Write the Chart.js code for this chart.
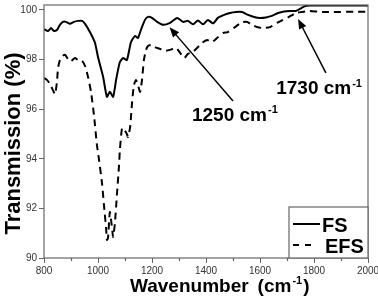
<!DOCTYPE html>
<html>
<head>
<meta charset="utf-8">
<script src="https://cdn.jsdelivr.net/npm/chart.js@4.4.0/dist/chart.umd.min.js"></script>
<style>
  body { margin: 0; background: #fff; }
  #wrap { width: 378px; height: 297px; }
</style>
</head>
<body>
<div id="wrap"><canvas id="chart" width="378" height="297"></canvas></div>
<script>
// FS (solid) spectrum
const fsWave = [800, 815, 826, 837, 848, 859, 870, 881, 896, 911, 926, 941, 952, 970, 989, 1000, 1019, 1033,
  1044, 1056, 1067, 1081, 1093, 1107, 1122, 1137, 1148, 1159, 1174, 1185, 1200, 1219, 1241, 1267, 1293, 1315,
  1333, 1352, 1370, 1389, 1407, 1426, 1444, 1467, 1489, 1511, 1533, 1556, 1578, 1600, 1622, 1644, 1667, 1689,
  1711, 1733, 1748, 1767, 1785, 1859, 2000];
const fsTrans = [99.23, 99.15, 99.27, 99.15, 99.19, 99.4, 99.52, 99.52, 99.44, 99.52, 99.56, 99.56, 99.44, 99.11, 98.67, 98.1, 97.3, 96.5,
  96.7, 96.5, 97.18, 97.9, 98.06, 97.98, 98.7, 98.95, 98.87, 99.2, 99.6, 99.72, 99.68, 99.52, 99.4, 99.48, 99.68, 99.52,
  99.56, 99.42, 99.58, 99.42, 99.6, 99.46, 99.68, 99.8, 99.88, 99.92, 99.92, 99.8, 99.72, 99.68, 99.7, 99.76, 99.88, 99.94,
  99.96, 99.96, 100.04, 100.16, 100.18, 100.18, 100.18];

// EFS (dashed) spectrum
const efsWave = [800, 811, 822, 833, 841, 848, 852, 859, 870, 878, 889, 900, 915, 926, 941, 952, 963, 974, 985, 996,
  1004, 1015, 1022, 1030, 1033, 1037, 1044, 1052, 1056, 1063, 1070, 1078, 1081, 1089, 1096, 1107, 1111, 1119, 1126,
  1133, 1141, 1148, 1156, 1163, 1170, 1178, 1185, 1196, 1211, 1230, 1248, 1267, 1289, 1304, 1319, 1333, 1352, 1370,
  1385, 1404, 1422, 1441, 1463, 1481, 1507, 1533, 1552, 1570, 1589, 1611, 1637, 1663, 1685, 1707, 1733, 1756, 1781,
  1830, 2000];
const efsTrans = [97.26, 97.18, 97.02, 96.77, 96.6, 97.1, 97.66, 97.98, 98.15, 98.19, 98.02, 97.94, 98.06, 97.98, 97.94, 97.74, 97.3, 96.7, 95.77, 94.56,
  93.95, 93.0, 92.14, 91.2, 90.73, 90.8, 91.85, 91.2, 90.85, 91.45, 92.54, 93.75, 94.35, 95.24, 95.2, 95.0, 94.88, 95.28, 96.25,
  96.97, 97.18, 96.97, 96.7, 97.18, 97.98, 98.39, 98.55, 98.59, 98.5, 98.43, 98.35, 98.39, 98.47, 98.27, 98.06, 98.23, 98.31, 98.5,
  98.67, 98.79, 98.71, 98.87, 99.07, 99.11, 99.31, 99.5, 99.52, 99.4, 99.31, 99.27, 99.31, 99.48, 99.6, 99.72, 99.88, 99.92, 99.96,
  99.92, 99.93];

const seriesNames = ["FS", "EFS"];
const xTicks = [800, 1000, 1200, 1400, 1600, 1800, 2000];
const yTicks = [90, 92, 94, 96, 98, 100];

const FONT = '"Liberation Sans", Arial, sans-serif';

function drawSup(ctx, x, y, base, sup, size) {
  ctx.textAlign = "left";
  ctx.textBaseline = "alphabetic";
  ctx.font = "bold " + size + "px " + FONT;
  ctx.fillText(base, x, y);
  const w = ctx.measureText(base).width;
  ctx.font = "bold " + Math.round(size * 0.6) + "px " + FONT;
  ctx.fillText(sup, x + w + 1, y - size * 0.4);
  return x + w + 1 + ctx.measureText(sup).width;
}

function arrow(ctx, x1, y1, x2, y2) {
  const a = Math.atan2(y2 - y1, x2 - x1);
  const len = 10, half = 4;
  ctx.beginPath();
  ctx.moveTo(x1, y1);
  ctx.lineTo(x2 - Math.cos(a) * len * 0.8, y2 - Math.sin(a) * len * 0.8);
  ctx.stroke();
  ctx.beginPath();
  ctx.moveTo(x2, y2);
  ctx.lineTo(x2 - Math.cos(a) * len - Math.sin(a) * half, y2 - Math.sin(a) * len + Math.cos(a) * half);
  ctx.lineTo(x2 - Math.cos(a) * len + Math.sin(a) * half, y2 - Math.sin(a) * len - Math.cos(a) * half);
  ctx.closePath();
  ctx.fill();
}

const decorations = {
  id: "decorations",
  afterDraw(chart) {
    const { ctx, chartArea: ca, scales } = chart;
    const sx = scales.x, sy = scales.y;
    ctx.save();

    // frame
    ctx.strokeStyle = "#666";
    ctx.lineWidth = 1.2;
    ctx.strokeRect(ca.left, ca.top, ca.right - ca.left, ca.bottom - ca.top);

    // minor ticks on x
    ctx.beginPath();
    for (let v = 900; v < 2000; v += 200) {
      const px = Math.round(sx.getPixelForValue(v)) + 0.5;
      ctx.moveTo(px, ca.bottom);
      ctx.lineTo(px, ca.bottom + 3);
    }
    ctx.stroke();

    ctx.fillStyle = "#000";
    ctx.strokeStyle = "#000";
    ctx.lineWidth = 1.5;

    // annotations
    arrow(ctx, sx.getPixelForValue(1500), sy.getPixelForValue(96.33),
      sx.getPixelForValue(1265), sy.getPixelForValue(99.3));
    drawSup(ctx, sx.getPixelForValue(1348), sy.getPixelForValue(95.52), "1250 cm", "-1", 19);

    arrow(ctx, sx.getPixelForValue(1844), sy.getPixelForValue(97.46),
      sx.getPixelForValue(1741), sy.getPixelForValue(99.64));
    drawSup(ctx, sx.getPixelForValue(1660), sy.getPixelForValue(96.6), "1730 cm", "-1", 19);

    // legend
    const lw = 79, lh = 51;
    const lx = ca.right - lw, ly = ca.bottom - lh;
    ctx.fillStyle = "#fff";
    ctx.fillRect(lx, ly, lw, lh);
    ctx.strokeStyle = "#666";
    ctx.lineWidth = 1.2;
    ctx.strokeRect(lx, ly, lw, lh);
    ctx.strokeStyle = "#000";
    ctx.fillStyle = "#000";
    ctx.lineWidth = 2;
    ctx.beginPath();
    ctx.moveTo(lx + 4, ly + 17);
    ctx.lineTo(lx + 31, ly + 17);
    ctx.stroke();
    ctx.setLineDash([6, 6]);
    ctx.beginPath();
    ctx.moveTo(lx + 4, ly + 38);
    ctx.lineTo(lx + 22, ly + 38);
    ctx.stroke();
    ctx.setLineDash([]);
    ctx.font = "bold 20px " + FONT;
    ctx.textAlign = "left";
    ctx.textBaseline = "alphabetic";
    ctx.fillText(seriesNames[0], lx + 33, ly + 25);
    ctx.fillText(seriesNames[1], lx + 36, ly + 46);

    // axis titles
    ctx.font = "bold 19px " + FONT;
    ctx.fillText("Wavenumber", ca.left + 86, 292);
    const endX = drawSup(ctx, ca.left + 86 + ctx.measureText("Wavenumber").width + 9, 292, "(cm", "-1", 19);
    ctx.font = "bold 19px " + FONT;
    ctx.fillText(")", endX + 1, 292);

    ctx.translate(20, (ca.top + ca.bottom) / 2 + 12);
    ctx.rotate(-Math.PI / 2);
    ctx.font = "bold 22px " + FONT;
    ctx.textAlign = "center";
    ctx.fillText("Transmission (%)", 0, 0);

    ctx.restore();
  }
};

const toPoints = (xs, ys) => xs.map((x, i) => ({ x: x, y: ys[i] }));

new Chart(document.getElementById("chart"), {
  type: "line",
  data: {
    datasets: [
      {
        label: seriesNames[0],
        data: toPoints(fsWave, fsTrans),
        borderColor: "#000",
        borderWidth: 2,
        pointRadius: 0,
        tension: 0.2,
        fill: false
      },
      {
        label: seriesNames[1],
        data: toPoints(efsWave, efsTrans),
        borderColor: "#000",
        borderWidth: 2,
        borderDash: [7, 5],
        pointRadius: 0,
        tension: 0.2,
        fill: false
      }
    ]
  },
  options: {
    responsive: false,
    animation: false,
    layout: { padding: { top: 5, right: 10, left: 0, bottom: 0 } },
    plugins: { legend: { display: false }, tooltip: { enabled: false } },
    scales: {
      x: {
        type: "linear",
        min: 800,
        max: 2000,
        afterFit: (s) => { s.height = 39; s.paddingLeft = 0; s.paddingRight = 0; },
        afterBuildTicks: (s) => { s.ticks = xTicks.map((v) => ({ value: v })); },
        ticks: {
          font: { size: 10, family: FONT }, color: "#333", padding: 2, maxRotation: 0, autoSkip: false,
          callback: (v) => String(v)
        },
        grid: { drawOnChartArea: false, tickLength: 5, color: "#666" },
        border: { display: false }
      },
      y: {
        min: 90,
        max: 100.2,
        afterFit: (s) => { s.width = 44; s.paddingTop = 0; s.paddingBottom = 0; },
        afterBuildTicks: (s) => { s.ticks = yTicks.map((v) => ({ value: v })); },
        ticks: { font: { size: 10, family: FONT }, color: "#333", padding: 2, callback: (v) => String(v) },
        grid: { drawOnChartArea: false, tickLength: 5, color: "#666" },
        border: { display: false }
      }
    }
  },
  plugins: [decorations]
});
</script>
</body>
</html>
